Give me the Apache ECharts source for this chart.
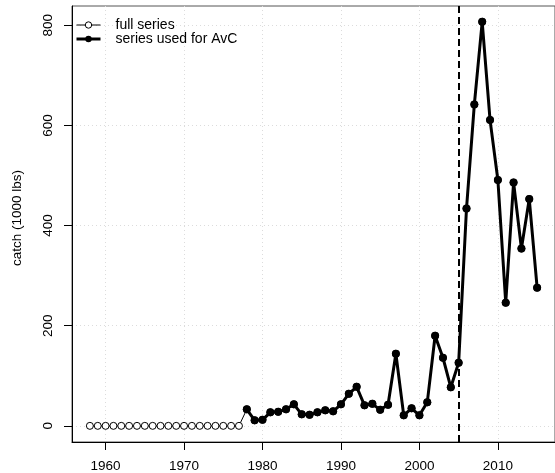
<!DOCTYPE html>
<html>
<head>
<meta charset="utf-8">
<script src="https://cdn.jsdelivr.net/npm/echarts@6/dist/echarts.min.js"></script>
<style>
  html, body { margin: 0; padding: 0; background: #fff; }
  #main { width: 555px; height: 473px; }
</style>
</head>
<body>
<div id="main"></div>
<script>
// catch series, 1000 lbs
const years = [];
for (let y = 1958; y <= 2015; y++) years.push(y);

const catchFull = [
    0, 0, 0, 0, 0, 0, 0, 0, 0, 0,
    0, 0, 0, 0, 0, 0, 0, 0, 0, 0,
    33, 11, 12, 27, 28, 33, 43, 23, 22, 27,
    31, 29, 43, 64, 78, 41, 44, 32, 42, 144,
    21, 35, 21, 47, 180, 136, 77, 126, 434, 642,
    807, 611, 491, 246, 486, 354, 453, 276
];
const avcStartYear = 1978;
const cutYear = 2005;

const xTicks = [1960, 1970, 1980, 1990, 2000, 2010];
const yTicks = [0, 200, 400, 600, 800];

const fullData = years.map((y, i) => [y, catchFull[i]]);
const avcData = fullData.filter(d => d[0] >= avcStartYear);

const font = 'Liberation Sans, Arial, sans-serif';
const chart = echarts.init(document.getElementById('main'), null, { renderer: 'canvas' });

var option = {
    backgroundColor: '#fff',
    animation: false,
    textStyle: { fontFamily: font, color: '#000' },
    grid: {
        left: 72, right: -4, top: 6, bottom: 31,
        show: true, borderColor: '#555', borderWidth: 1
    },
    legend: {
        left: 75, top: 18,
        orient: 'vertical',
        padding: 0,
        itemGap: 0,
        itemWidth: 24, itemHeight: 8,
        textStyle: { fontFamily: font, fontSize: 14, color: '#000', padding: [0, 0, 0, 10] },
        data: [
            { name: 'full series', lineStyle: { width: 1 }, itemStyle: { borderWidth: 1 } },
            { name: 'series used for AvC', lineStyle: { width: 3 } }
        ]
    },
    xAxis: {
        type: 'value',
        min: 1955.72, max: 2017.28,
        axisLine: { onZero: false, lineStyle: { color: '#000', width: 1 } },
        axisTick: { customValues: xTicks, length: 8, lineStyle: { color: '#000' } },
        axisLabel: {
            customValues: xTicks, margin: 17,
            formatter: v => String(v),
            fontFamily: font, fontSize: 13.5, color: '#000'
        },
        splitLine: { show: true, lineStyle: { color: '#dcdcdc', type: [1, 3], width: 1 } }
    },
    yAxis: {
        type: 'value',
        min: -32.25, max: 838.5,
        name: 'catch (1000 lbs)',
        nameLocation: 'middle',
        nameRotate: 90,
        nameGap: 48,
        nameTextStyle: { fontFamily: font, fontSize: 13.5, color: '#000', padding: [0, 0, 0, 12] },
        axisLine: { show: true, lineStyle: { color: '#000', width: 1 } },
        axisTick: { show: true, customValues: yTicks, length: 8, lineStyle: { color: '#000' } },
        axisLabel: {
            customValues: yTicks, rotate: 90, margin: 17,
            formatter: v => String(v),
            fontFamily: font, fontSize: 13.5, color: '#000'
        },
        splitLine: { show: true, lineStyle: { color: '#dcdcdc', type: [1, 3], width: 1 } }
    },
    series: [
        {
            name: 'full series',
            type: 'line',
            data: fullData,
            symbol: 'circle',
            symbolSize: 7,
            lineStyle: { color: '#000', width: 1 },
            itemStyle: { color: '#fff', borderColor: '#000', borderWidth: 1 },
            z: 2
        },
        {
            name: 'series used for AvC',
            type: 'line',
            data: avcData,
            symbol: 'circle',
            symbolSize: 8,
            lineStyle: { color: '#000', width: 3 },
            itemStyle: { color: '#000' },
            z: 3,
            markLine: {
                silent: true,
                symbol: 'none',
                label: { show: false },
                lineStyle: { color: '#000', width: 2, type: [7, 4] },
                data: [{ xAxis: cutYear }]
            }
        }
    ]
};
chart.setOption(option);
</script>
</body>
</html>
